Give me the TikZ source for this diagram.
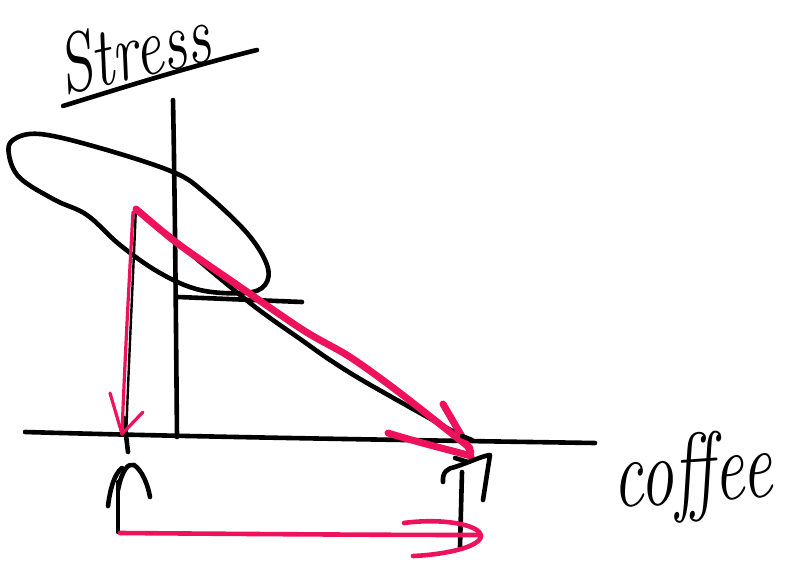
\documentclass[tikz,border=0pt]{standalone}
\usetikzlibrary{calc}
\definecolor{pinkline}{RGB}{238,18,92}
\tikzset{
  ink/.style={draw=black, line width=4.6pt, line cap=round, line join=round},
  thinink/.style={draw=black, line width=2.4pt, line cap=round, line join=round},
  pinkthick/.style={draw=pinkline, line width=7pt, line cap=round, line join=round},
  pinkmid/.style={draw=pinkline, line width=4.6pt, line cap=round, line join=round},
  pinkthin/.style={draw=pinkline, line width=3.2pt, line cap=round, line join=round},
  hand/.style={inner sep=0pt, font=\fontsize{62}{66}\selectfont\itshape}
}
\begin{document}
\begin{tikzpicture}[x=1pt,y=-1pt]
\useasboundingbox (0,0) rectangle (785,570);
% coordinates
\coordinate (xl) at (25,432);
\coordinate (xr) at (595,443);
\coordinate (yt) at (173,100);
\coordinate (yb) at (177,437);
\coordinate (hs) at (178,297);
\coordinate (he) at (302,302);
\coordinate (vs) at (133,212);
\coordinate (ve) at (122,434);
\coordinate (bs) at (120,533);
\coordinate (be) at (478,535);
% labels
\node[hand, rotate=13, anchor=base west] (stress) at (64,95) {\scalebox{1}[1.35]{Stress}};
\coordinate (ul1) at (63,106);
\coordinate (ul2) at (257,50);
\draw[ink] (ul1) .. controls (140,82) and (200,64) .. (ul2);
\node[hand, rotate=4, anchor=base west] (coffee) at (614,508) {\fontsize{68}{70}\selectfont\scalebox{1}[1.45]{coffee}};
% axes
\draw[ink] (xl) .. controls (200,437) and (400,440) .. (xr);
\draw[ink] (yt) .. controls (175,200) and (176,330) .. (yb);
% loop
\draw[ink] plot[smooth cycle, tension=0.6] coordinates {(13,140) (40,134) (100,148) (173,172) (205,193) (247,233) (267,265) (265,285) (245,293) (200,290) (160,273) (120,245) (87,215) (55,200) (20,178) (9,155)};
% horizontal short line and black diagonal
\draw[ink] (hs) -- (he);
\draw[ink] plot[smooth, tension=0.5] coordinates {(166,233) (250,303) (303,341) (330,360) (367,383) (463,437)};
% black thin under pink vertical
\draw[thinink] (136,207) .. controls (132,300) and (128,380) .. (126,440);
\draw[ink] (124,418) -- (128,452);
% pink vertical with arrow head
\draw[pinkthin] (vs) .. controls (128,300) and (124,380) .. (ve);
\draw[pinkthin] (110,393) -- (ve) -- (143,412);
% pink diagonal with arrow head
\draw[pinkthick] plot[smooth, tension=0.5] coordinates {(136,209) (177,243) (230,280) (303,330) (350,357) (400,393) (470,448)};
\draw[pinkthick] (443,404) -- (471,452);
\draw[pinkthick] (388,433) .. controls (420,443) and (450,450) .. (471,456);
% black blob at right end
\draw[ink] (462,436) -- (472,440);
% left mark
\draw[ink] (108,506) .. controls (110,490) and (114,474) .. (122,468);
\draw[ink] (118,490) .. controls (122,470) and (128,463) .. (134,465) .. controls (142,470) and (148,485) .. (150,497);
\draw[ink] (118,482) -- (118,532);
% right mark
\draw[ink] (443,482) .. controls (442,472) and (448,468) .. (455,467) .. controls (470,462) and (482,456) .. (490,455) -- (483,500);
\draw[ink] (462,472) -- (460,547);
\draw[ink] (455,458) -- (468,462);
% pink bottom with arrow head
\draw[pinkmid] (bs) .. controls (250,534) and (380,535) .. (be);
\draw[pinkmid] (404,523) .. controls (440,518) and (480,524) .. (481,536) .. controls (480,548) and (440,555) .. (413,556);
\end{tikzpicture}
\end{document}
